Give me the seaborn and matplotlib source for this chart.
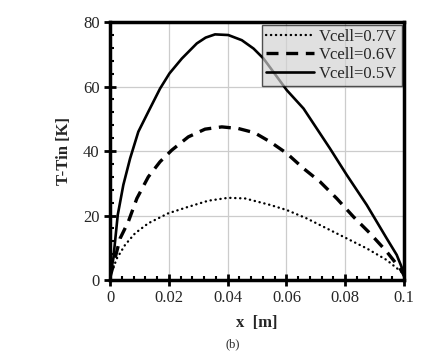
import matplotlib
matplotlib.use("Agg")
import matplotlib.pyplot as plt
import seaborn as sns
import pandas as pd
from matplotlib.ticker import MultipleLocator

# Data
x_07 = [0.0, 0.0006, 0.0023, 0.0051, 0.0085, 0.013, 0.0198, 0.0266, 0.0334, 0.0402, 0.0459,
        0.0544, 0.0601, 0.0669, 0.0737, 0.0805, 0.0873, 0.0941, 0.0998, 0.1]
t_07 = [1.0, 2.6, 6.7, 10.9, 14.5, 17.6, 20.7, 22.7, 24.6, 25.5, 25.3,
        23.3, 21.7, 19.1, 16.0, 12.9, 9.8, 6.2, 2.0, 1.0]

x_06 = [0.0, 0.0008, 0.0034, 0.0062, 0.0091, 0.013, 0.017, 0.021, 0.0266, 0.0323, 0.038, 0.0436,
        0.0491, 0.0544, 0.0601, 0.0658, 0.0714, 0.0771, 0.0828, 0.0884, 0.0941, 0.0986, 0.1]
t_06 = [1.0, 3.6, 12.9, 18.1, 25.3, 32.0, 36.7, 40.3, 44.4, 46.8, 47.5, 47.0,
        45.7, 42.9, 39.3, 34.6, 30.5, 25.3, 19.6, 14.5, 8.8, 3.6, 1.5]

x_05 = [0.0, 0.0011, 0.0026, 0.0045, 0.0068, 0.0096, 0.013, 0.017, 0.0202, 0.0244, 0.0295, 0.0325,
        0.0357, 0.0402, 0.0448, 0.0488, 0.0522, 0.0601, 0.0658, 0.0748, 0.0805, 0.0873, 0.0941,
        0.0975, 0.0998, 0.1]
t_05 = [1.0, 6.7, 20.2, 29.5, 37.7, 46.0, 52.2, 59.4, 64.1, 68.7, 73.4, 75.2,
        76.2, 76.0, 74.4, 71.8, 68.7, 58.9, 53.2, 40.8, 32.6, 23.3, 12.9,
        7.8, 2.6, 1.0]

labels = ["Vcell=0.7V", "Vcell=0.6V", "Vcell=0.5V"]
x_ticks = [0, 0.02, 0.04, 0.06, 0.08, 0.1]
x_tick_labels = ["0", "0.02", "0.04", "0.06", "0.08", "0.1"]
y_ticks = [0, 20, 40, 60, 80]

sns.set_style("white")
plt.rcParams["font.family"] = ["Liberation Serif", "DejaVu Serif"]

fig = plt.figure(figsize=(4.44, 3.57), dpi=100)
ax = fig.add_axes([0.248, 0.2157, 0.662, 0.7223])

df07 = pd.DataFrame({"x": x_07, "T": t_07})
df06 = pd.DataFrame({"x": x_06, "T": t_06})
df05 = pd.DataFrame({"x": x_05, "T": t_05})

sns.lineplot(data=df07, x="x", y="T", ax=ax, color="black", lw=1.7,
             linestyle=(0, (0.1, 2.0)), dash_capstyle="round", label=labels[0])
sns.lineplot(data=df06, x="x", y="T", ax=ax, color="black", lw=2.4,
             linestyle=(0, (3.6, 2.3)), label=labels[1])
sns.lineplot(data=df05, x="x", y="T", ax=ax, color="black", lw=1.9,
             linestyle="-", label=labels[2])

ax.set_xlim(0, 0.1)
ax.set_ylim(0, 80)
ax.set_xticks(x_ticks)
ax.set_xticklabels(x_tick_labels)
ax.set_yticks(y_ticks)
ax.xaxis.set_minor_locator(MultipleLocator(0.004))
ax.yaxis.set_minor_locator(MultipleLocator(4))
ax.tick_params(which="major", direction="inout", length=8, width=2, labelsize=12, color="black")
ax.tick_params(which="minor", direction="in", length=3, width=1.5, color="black")
ax.tick_params(axis="x", which="both", bottom=True, top=False)
ax.tick_params(axis="y", which="both", left=True, right=False)

ax.grid(True, which="major", color="#cccccc", lw=0.9)
ax.set_axisbelow(True)
for s in ax.spines.values():
    s.set_visible(True)
    s.set_color("black")
    s.set_linewidth(2.5)

ax.set_xlabel("x  [m]", fontsize=12, fontweight="bold", labelpad=6)
ax.set_ylabel("T-Tin [K]", fontsize=12, fontweight="bold", labelpad=8)

leg = ax.legend(loc="upper right", fontsize=12, frameon=True, fancybox=False,
                borderpad=0.25, labelspacing=0.15, handlelength=2.9, handletextpad=0.3,
                borderaxespad=0.15, framealpha=0.67)
leg.get_frame().set_facecolor("#d2d2d2")
leg.get_frame().set_edgecolor("black")
leg.get_frame().set_linewidth(1.0)

fig.text(0.525, 0.035, "(b)", fontsize=9, ha="center", va="center")

fig.savefig("out.png", dpi=100)
